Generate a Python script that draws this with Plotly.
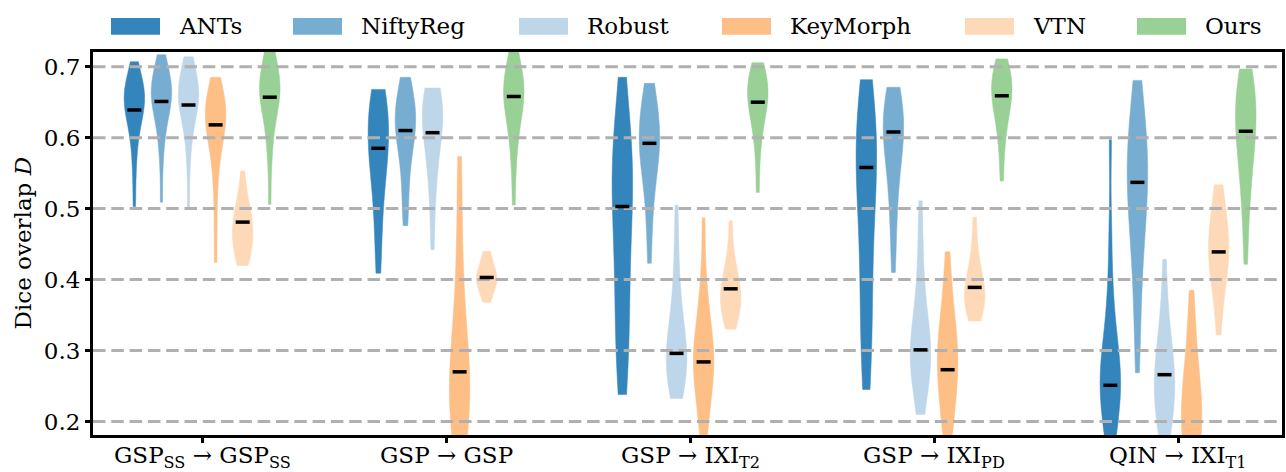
import plotly.graph_objects as go

# ---------------- data ----------------
groups = ["GSP<sub>SS</sub> → GSP<sub>SS</sub>", "GSP → GSP",
          "GSP → IXI<sub>T2</sub>", "GSP → IXI<sub>PD</sub>", "QIN → IXI<sub>T1</sub>"]
methods = ["ANTs", "NiftyReg", "Robust", "KeyMorph", "VTN", "Ours"]
colors = ["#3585bd", "#78add2", "#bed6e9", "#fdbf86", "#fed9b8", "#98d095"]

ants = [
    [0.503, 0.545, 0.575, 0.595, 0.610, 0.620, 0.628, 0.635, 0.640, 0.645, 0.650, 0.655, 0.660, 0.663, 0.667, 0.672, 0.678, 0.686, 0.695, 0.707],
    [0.409, 0.440, 0.475, 0.505, 0.530, 0.548, 0.560, 0.572, 0.582, 0.592, 0.602, 0.612, 0.622, 0.632, 0.642, 0.652, 0.660, 0.668],
    [0.238, 0.255, 0.275, 0.295, 0.315, 0.335, 0.355, 0.375, 0.395, 0.415, 0.435, 0.455, 0.475, 0.490, 0.505, 0.518, 0.530, 0.540, 0.550, 0.560, 0.570, 0.582, 0.595, 0.610, 0.630, 0.655, 0.685],
    [0.245, 0.265, 0.290, 0.315, 0.340, 0.365, 0.390, 0.415, 0.440, 0.465, 0.490, 0.510, 0.528, 0.543, 0.555, 0.566, 0.576, 0.586, 0.596, 0.607, 0.620, 0.635, 0.650, 0.666, 0.6817],
    [0.160, 0.180, 0.197, 0.212, 0.224, 0.234, 0.243, 0.251, 0.259, 0.267, 0.276, 0.286, 0.298, 0.313, 0.332, 0.360, 0.400, 0.470, 0.597],
]
niftyreg = [
    [0.509, 0.560, 0.590, 0.608, 0.620, 0.630, 0.638, 0.645, 0.650, 0.655, 0.660, 0.664, 0.668, 0.672, 0.677, 0.683, 0.690, 0.698, 0.707, 0.717],
    [0.476, 0.500, 0.530, 0.555, 0.575, 0.590, 0.600, 0.608, 0.615, 0.622, 0.628, 0.635, 0.642, 0.650, 0.660, 0.672, 0.685],
    [0.423, 0.470, 0.505, 0.530, 0.548, 0.562, 0.573, 0.582, 0.590, 0.598, 0.606, 0.615, 0.625, 0.637, 0.650, 0.663, 0.6765],
    [0.410, 0.455, 0.490, 0.520, 0.543, 0.562, 0.578, 0.590, 0.600, 0.608, 0.616, 0.624, 0.632, 0.640, 0.650, 0.660, 0.671],
    [0.2687, 0.320, 0.365, 0.400, 0.430, 0.455, 0.475, 0.492, 0.507, 0.520, 0.532, 0.543, 0.554, 0.565, 0.576, 0.588, 0.600, 0.615, 0.635, 0.660, 0.6807],
]
robust = [
    [0.501, 0.555, 0.588, 0.605, 0.618, 0.628, 0.636, 0.643, 0.648, 0.653, 0.657, 0.661, 0.665, 0.670, 0.675, 0.682, 0.690, 0.698, 0.706, 0.714],
    [0.442, 0.490, 0.525, 0.550, 0.570, 0.585, 0.597, 0.607, 0.616, 0.624, 0.632, 0.640, 0.647, 0.654, 0.660, 0.665, 0.670],
    [0.2325, 0.242, 0.252, 0.262, 0.270, 0.278, 0.285, 0.292, 0.299, 0.307, 0.316, 0.327, 0.340, 0.357, 0.380, 0.410, 0.450, 0.505],
    [0.210, 0.232, 0.248, 0.260, 0.270, 0.279, 0.287, 0.295, 0.303, 0.311, 0.320, 0.331, 0.345, 0.362, 0.385, 0.420, 0.460, 0.511],
    [0.165, 0.185, 0.200, 0.213, 0.224, 0.234, 0.243, 0.252, 0.261, 0.270, 0.280, 0.292, 0.306, 0.323, 0.345, 0.375, 0.4286],
]
keymorph = [
    [0.424, 0.480, 0.530, 0.560, 0.580, 0.595, 0.605, 0.612, 0.618, 0.624, 0.630, 0.636, 0.642, 0.648, 0.655, 0.662, 0.670, 0.685],
    [0.150, 0.170, 0.185, 0.198, 0.210, 0.220, 0.230, 0.240, 0.250, 0.260, 0.270, 0.282, 0.295, 0.310, 0.330, 0.355, 0.385, 0.420, 0.470, 0.530, 0.5735],
    [0.178, 0.200, 0.220, 0.238, 0.252, 0.264, 0.274, 0.282, 0.290, 0.298, 0.307, 0.318, 0.332, 0.350, 0.375, 0.410, 0.487],
    [0.170, 0.190, 0.208, 0.225, 0.240, 0.253, 0.264, 0.274, 0.283, 0.292, 0.301, 0.311, 0.322, 0.335, 0.352, 0.372, 0.400, 0.4394],
    [0.120, 0.140, 0.155, 0.168, 0.180, 0.191, 0.201, 0.211, 0.221, 0.231, 0.242, 0.255, 0.270, 0.290, 0.315, 0.345, 0.385],
]
vtn = [
    [0.420, 0.428, 0.435, 0.442, 0.448, 0.455, 0.462, 0.468, 0.474, 0.480, 0.486, 0.492, 0.500, 0.510, 0.525, 0.553],
    [0.368, 0.378, 0.386, 0.392, 0.397, 0.401, 0.404, 0.408, 0.413, 0.420, 0.430, 0.440],
    [0.330, 0.340, 0.350, 0.358, 0.365, 0.371, 0.377, 0.383, 0.390, 0.398, 0.408, 0.420, 0.440, 0.483],
    [0.3416, 0.350, 0.357, 0.364, 0.370, 0.376, 0.382, 0.388, 0.395, 0.403, 0.413, 0.428, 0.450, 0.488],
    [0.322, 0.355, 0.378, 0.395, 0.408, 0.418, 0.427, 0.435, 0.442, 0.449, 0.457, 0.466, 0.477, 0.490, 0.505, 0.520, 0.5335],
]
ours = [
    [0.506, 0.560, 0.590, 0.610, 0.625, 0.636, 0.645, 0.652, 0.658, 0.663, 0.668, 0.673, 0.678, 0.684, 0.690, 0.698, 0.708, 0.720, 0.735],
    [0.505, 0.555, 0.585, 0.605, 0.620, 0.632, 0.642, 0.650, 0.657, 0.663, 0.668, 0.674, 0.680, 0.688, 0.697, 0.710, 0.725],
    [0.5227, 0.570, 0.600, 0.618, 0.630, 0.640, 0.648, 0.655, 0.661, 0.667, 0.673, 0.680, 0.688, 0.697, 0.7056],
    [0.539, 0.580, 0.605, 0.622, 0.635, 0.645, 0.653, 0.660, 0.666, 0.672, 0.678, 0.685, 0.693, 0.702, 0.711],
    [0.4215, 0.470, 0.505, 0.530, 0.550, 0.566, 0.580, 0.592, 0.603, 0.613, 0.622, 0.631, 0.640, 0.649, 0.658, 0.667, 0.677, 0.687, 0.6967],
]

# median markers per method, one per group
med_ants = [0.639, 0.585, 0.503, 0.558, 0.251]
med_niftyreg = [0.651, 0.610, 0.592, 0.608, 0.537]
med_robust = [0.646, 0.607, 0.296, 0.301, 0.266]
med_keymorph = [0.618, 0.270, 0.284, 0.273, 0.170]
med_vtn = [0.481, 0.403, 0.387, 0.389, 0.439]
med_ours = [0.657, 0.658, 0.650, 0.659, 0.609]

y_ticks = [0.2, 0.3, 0.4, 0.5, 0.6, 0.7]

# ---------------- figure ----------------
samples = [ants, niftyreg, robust, keymorph, vtn, ours]
medians = [med_ants, med_niftyreg, med_robust, med_keymorph, med_vtn, med_ours]

STEP = 0.111
VW = 0.084
XR = [-0.447, 4.426]
YR = [0.181, 0.7207]
FONT = "'DejaVu Serif', 'Liberation Serif', serif"

fig = go.Figure()
for m, name in enumerate(methods):
    for g in range(len(groups)):
        pos = g + (m - 2.5) * STEP
        fig.add_trace(go.Violin(
            y=samples[m][g], x0=pos, name=name, width=VW,
            scalemode="width", spanmode="hard", points=False,
            fillcolor=colors[m], line=dict(color=colors[m], width=0.5),
            box_visible=False, meanline_visible=False, showlegend=False,
            hoverinfo="skip", opacity=1))

# dashed grid drawn above the violins (as in the reference)
gx, gy = [], []
for t in y_ticks:
    gx += [XR[0], XR[1], None]
    gy += [t, t, None]
fig.add_trace(go.Scatter(x=gx, y=gy, mode="lines",
                         line=dict(color="#b0b0b0", width=3, dash="12.5px,5.8px"),
                         showlegend=False, hoverinfo="skip"))

# median markers
mx, my = [], []
for m in range(len(methods)):
    for g in range(len(groups)):
        mx.append(g + (m - 2.5) * STEP)
        my.append(medians[m][g])
fig.add_trace(go.Scatter(x=mx, y=my, mode="markers",
                         marker=dict(symbol="line-ew", size=10, color="black",
                                     line=dict(color="black", width=3.5)),
                         showlegend=False, hoverinfo="skip"))

W, H = 1286, 472
L, R, T, B = 93, 4, 52, 37
pw, ph = W - L - R, H - T - B

def px(xp):
    return (xp - L) / pw

def py(yp):
    return (H - B - yp) / ph

# legend (patches + labels)
patch_left = [111, 293, 519, 722, 965, 1137]
shapes, annots = [], []
for i, name in enumerate(methods):
    shapes.append(dict(type="rect", xref="paper", yref="paper",
                       x0=px(patch_left[i]), x1=px(patch_left[i] + 49),
                       y0=py(34.7), y1=py(18), fillcolor=colors[i], line=dict(width=0)))
    annots.append(dict(xref="paper", yref="paper", x=px(patch_left[i] + 66), y=py(26.5),
                       text=name, showarrow=False, xanchor="left", yanchor="middle",
                       font=dict(family=FONT, size=23, color="black")))

# category labels under the ticks
for g, lab in enumerate(groups):
    annots.append(dict(xref="x", yref="paper", x=g, y=0, yanchor="top", xanchor="center",
                       yshift=-5, text=lab, showarrow=False,
                       font=dict(family=FONT, size=23, color="black")))

annots.append(dict(xref="paper", yref="paper", x=px(22), y=0.5,
                   text="Dice overlap <i>D</i>", textangle=-90, showarrow=False,
                   xanchor="center", yanchor="middle",
                   font=dict(family=FONT, size=23, color="black")))

fig.update_layout(
    width=W, height=H, autosize=False,
    margin=dict(l=L, r=R, t=T, b=B, pad=0),
    paper_bgcolor="white", plot_bgcolor="white",
    violinmode="overlay", shapes=shapes, annotations=annots,
    font=dict(family=FONT, size=23, color="black"),
)
fig.update_xaxes(range=XR, tickmode="array", tickvals=list(range(len(groups))),
                 showticklabels=False, showgrid=False, zeroline=False, automargin=False,
                 showline=True, mirror=True, linecolor="black", linewidth=3,
                 ticks="outside", ticklen=5, tickwidth=2.5, tickcolor="black")
fig.update_yaxes(range=YR, tickmode="array", tickvals=y_ticks, automargin=False,
                 ticktext=[f"{t:.1f}" for t in y_ticks], showgrid=False, zeroline=False,
                 showline=True, mirror=True, linecolor="black", linewidth=3,
                 ticks="outside", ticklen=5, tickwidth=2.5, tickcolor="black",
                 tickfont=dict(family=FONT, size=23, color="black"))

fig.write_html("out.html", config={"displayModeBar": False},
               post_script="document.body.style.margin='0';document.body.style.overflow='hidden';")
